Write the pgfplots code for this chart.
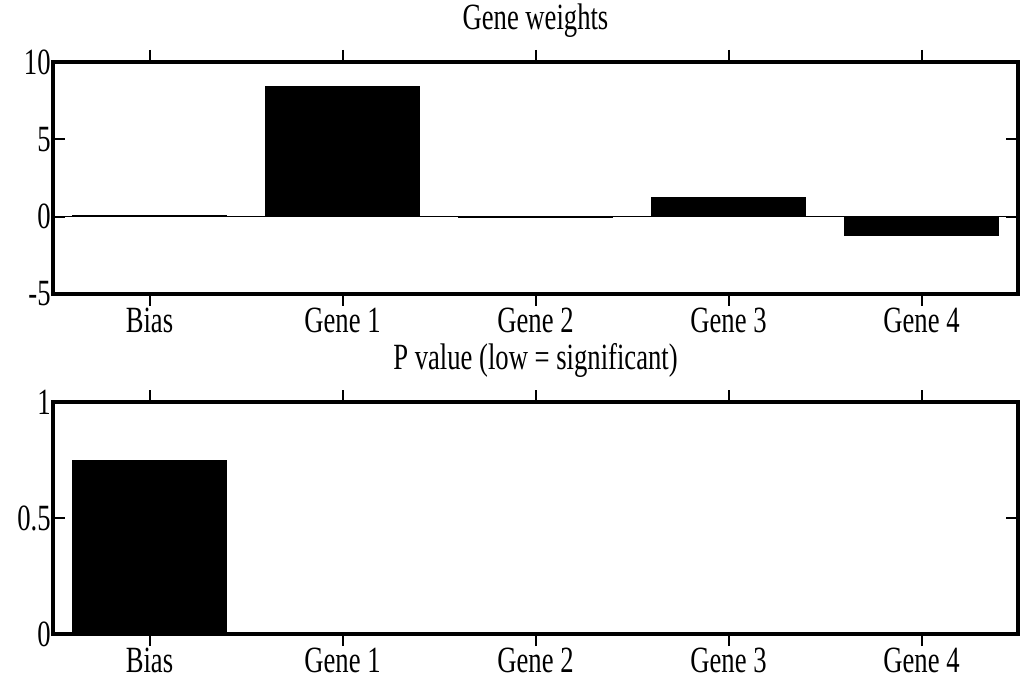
\documentclass[border=0pt]{standalone}
\usepackage{pgfplots}
\pgfplotsset{compat=1.18}
\usepackage{fontspec}
\setmainfont{Liberation Serif}[FakeStretch=0.72]
\begin{document}
\begin{tikzpicture}
\useasboundingbox (-26.5pt,-195pt) rectangle (484pt,147pt);
\pgfplotsset{
 myax/.style={
  scale only axis, width=482.5pt, height=116pt,
  xmin=0.5, xmax=5.5, xtick={1,2,3,4,5},
  xticklabels={Bias,Gene 1,Gene 2,Gene 3,Gene 4},
  axis line style={line width=1.6pt},
  tick style={black, line width=1pt},
  major tick length=6pt,
  minor tick num=0,
  tick label style={font=\fontsize{18.5}{22}\selectfont, inner sep=1pt},
  title style={font=\fontsize{18.5}{22}\selectfont, yshift=2.5pt},
  ybar, bar width=0.8,
  anchor=south west,
 }
}
\begin{axis}[myax, at={(0pt,0pt)}, ymin=-5, ymax=10, ytick={-5,0,5,10}, yticklabels={-5,0,5,10}, title={Gene weights}]
\addplot[fill=black, draw=black] coordinates {(1,0.08) (2,8.4) (3,-0.02) (4,1.25) (5,-1.2)};
\draw[line width=0.6pt] (axis cs:0.5,0) -- (axis cs:5.5,0);
\end{axis}
\begin{axis}[myax, at={(0pt,-170pt)}, ymin=0, ymax=1, ytick={0,0.5,1}, yticklabels={0,0.5,1}, title={P value (low = significant)}]
\addplot[fill=black, draw=black] coordinates {(1,0.75) (2,0) (3,0) (4,0) (5,0)};
\end{axis}
\end{tikzpicture}
\end{document}
